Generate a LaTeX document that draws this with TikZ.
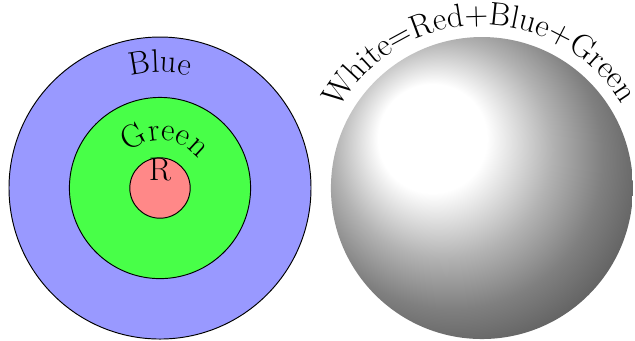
\documentclass[tikz,border=0pt]{standalone}
\usetikzlibrary{decorations.text}
\definecolor{cblue}{RGB}{153,153,255}
\definecolor{cgreen}{RGB}{72,255,72}
\definecolor{cred}{RGB}{255,136,136}
\begin{document}
\begin{tikzpicture}[
  ring/.style={circle, draw=black, line width=0.45pt, inner sep=0pt},
  lbl/.style={font=\fontsize{15.4}{18}\selectfont, inner sep=0pt},
  arctext/.style={decorate, decoration={text along path, text align=center,
      text={|\fontsize{15.4}{18}\selectfont|#1}}},
  bigarctext/.style={decorate, decoration={text along path, text align=center,
      text={|\fontsize{15.4}{18}\selectfont|#1}}}
]
\useasboundingbox (-2.649,-2.517) rectangle (7.864,3.113);
\node[ring, fill=cblue, minimum size=5cm] (blue) at (0,0) {};
\node[ring, fill=cgreen, minimum size=3cm] (green) at (0,0) {};
\node[ring, fill=cred, minimum size=1cm] (red) at (0,0) {};
\node[lbl] (r) at (0,0.3) {R};
\path[arctext={Blue}] ([shift={(150:1.92)}]blue.center) arc[start angle=150, end angle=30, radius=1.92cm];
\path[arctext={Green}] ([shift={(174:0.79)}]green.center) arc[start angle=174, end angle=-5, radius=0.79cm];
\node[circle, inner sep=0pt, minimum size=5cm, shading=ball, ball color=white] (ball) at (5.33,0) {};
\path[bigarctext={White=Red+Blue+Green}] ([shift={(176:2.70)}]ball.center) arc[start angle=176, end angle=6, radius=2.70cm];
\end{tikzpicture}
\end{document}
